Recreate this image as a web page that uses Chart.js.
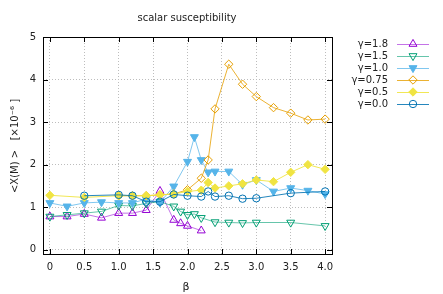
<!DOCTYPE html>
<html lang="en">
<head>
<meta charset="UTF-8" />
<title>scalar susceptibility</title>
<script src="https://cdn.jsdelivr.net/npm/chart.js"></script>
<style>
  body { margin: 0; background: #fff; }
</style>
</head>
<body>
<canvas id="chart" width="443" height="294"></canvas>
<script>
// data (beta, <X(M)> in 1e-6)
const g18Beta = [0, 0.25, 0.5, 0.75, 1.0, 1.2, 1.4, 1.6, 1.8, 1.9, 2.0, 2.2];
const g18Chi  = [0.78, 0.78, 0.84, 0.75, 0.86, 0.86, 0.93, 1.38, 0.70, 0.62, 0.56, 0.45];

const g15Beta = [0, 0.25, 0.5, 0.75, 1.0, 1.2, 1.4, 1.6, 1.8, 1.9, 2.0, 2.1, 2.2, 2.4, 2.6, 2.8, 3.0, 3.5, 4.0];
const g15Chi  = [0.78, 0.82, 0.86, 0.90, 1.04, 1.03, 1.09, 1.13, 1.02, 0.90, 0.82, 0.84, 0.75, 0.65, 0.64, 0.63, 0.64, 0.64, 0.56];

const g10Beta = [0, 0.25, 0.5, 0.75, 1.0, 1.2, 1.4, 1.6, 1.8, 2.0, 2.1, 2.2, 2.3, 2.4, 2.6, 2.8, 3.0, 3.25, 3.5, 3.75, 4.0];
const g10Chi  = [1.10, 1.02, 1.10, 1.12, 1.10, 1.10, 1.19, 1.11, 1.49, 2.07, 2.65, 2.11, 1.82, 1.84, 1.84, 1.53, 1.64, 1.37, 1.45, 1.39, 1.31];

const g075Beta = [1.0, 1.2, 1.4, 1.6, 1.8, 2.0, 2.2, 2.3, 2.4, 2.6, 2.8, 3.0, 3.25, 3.5, 3.75, 4.0];
const g075Chi  = [1.27, 1.27, 1.27, 1.29, 1.31, 1.41, 1.68, 2.11, 3.31, 4.36, 3.89, 3.60, 3.34, 3.21, 3.05, 3.07];

const g05Beta = [0, 0.5, 1.0, 1.2, 1.4, 1.6, 1.8, 2.0, 2.2, 2.3, 2.4, 2.6, 2.8, 3.0, 3.25, 3.5, 3.75, 4.0];
const g05Chi  = [1.28, 1.23, 1.27, 1.27, 1.27, 1.29, 1.31, 1.37, 1.40, 1.58, 1.45, 1.50, 1.55, 1.64, 1.60, 1.82, 2.00, 1.89];

const g00Beta = [0.5, 1.0, 1.2, 1.4, 1.6, 1.8, 2.0, 2.2, 2.3, 2.4, 2.6, 2.8, 3.0, 3.5, 4.0];
const g00Chi  = [1.27, 1.29, 1.27, 1.13, 1.13, 1.30, 1.27, 1.25, 1.37, 1.25, 1.27, 1.20, 1.21, 1.33, 1.37];

const xTicks = [0, 0.5, 1, 1.5, 2, 2.5, 3, 3.5, 4];
const yTicks = [0, 1, 2, 3, 4, 5];

const FONT = '"DejaVu Sans", sans-serif';

function pts(xs, ys) {
  return xs.map((x, i) => ({ x: x, y: ys[i] }));
}

function markerSize(style) {
  if (style === 'circle') return 3.7;
  if (style === 'rectRot') return 4.2;
  return 4.6;
}

function series(label, xs, ys, color, line, style, rot, filled, order) {
  return {
    label: label,
    data: pts(xs, ys),
    showLine: true,
    borderColor: line,
    borderWidth: 1,
    pointStyle: style,
    rotation: rot,
    pointRadius: markerSize(style),
    pointBorderColor: color,
    pointBackgroundColor: filled ? color : 'rgba(0,0,0,0)',
    pointBorderWidth: 1,
    order: order
  };
}

const datasets = [
  series('γ=1.8', g18Beta, g18Chi, '#9400d3', 'rgba(148,0,211,0.55)', 'triangle', 0, false, 5),
  series('γ=1.5', g15Beta, g15Chi, '#009e73', 'rgba(0,158,115,0.6)', 'triangle', 180, false, 4),
  series('γ=1.0', g10Beta, g10Chi, '#56b4e9', 'rgba(86,180,233,0.75)', 'triangle', 180, true, 3),
  series('γ=0.75', g075Beta, g075Chi, '#e69f00', 'rgba(230,159,0,0.8)', 'rectRot', 0, false, 2),
  series('γ=0.5', g05Beta, g05Chi, '#f0e442', 'rgba(240,228,66,0.9)', 'rectRot', 0, true, 1),
  series('γ=0.0', g00Beta, g00Chi, '#0072b2', 'rgba(0,114,178,0.85)', 'circle', 0, false, 0)
];

// box, inward ticks, titles and key, drawn gnuplot style
const frame = {
  id: 'frame',
  afterDraw(chart) {
    const ctx = chart.ctx;
    const a = chart.chartArea;
    const xs = chart.scales.x, ys = chart.scales.y;
    ctx.save();
    ctx.strokeStyle = '#000';
    ctx.lineWidth = 1;
    ctx.strokeRect(a.left + 0.5, a.top + 0.5, a.right - a.left, a.bottom - a.top);
    ctx.beginPath();
    xTicks.forEach(v => {
      const p = Math.round(xs.getPixelForValue(v)) + 0.5;
      ctx.moveTo(p, a.bottom); ctx.lineTo(p, a.bottom - 5);
      ctx.moveTo(p, a.top); ctx.lineTo(p, a.top + 5);
    });
    yTicks.forEach(v => {
      const p = Math.round(ys.getPixelForValue(v)) + 0.5;
      ctx.moveTo(a.left, p); ctx.lineTo(a.left + 5, p);
      ctx.moveTo(a.right, p); ctx.lineTo(a.right - 5, p);
    });
    ctx.stroke();

    ctx.fillStyle = '#222';
    ctx.font = '10px ' + FONT;
    ctx.textAlign = 'center';
    ctx.textBaseline = 'middle';
    ctx.fillText('scalar susceptibility', 187, 18);
    ctx.font = '11px ' + FONT;
    ctx.fillText('β', 186, 287);
    ctx.save();
    ctx.translate(15, 146);
    ctx.rotate(-Math.PI / 2);
    ctx.font = '10px ' + FONT;
    ctx.fillText('<X(M) >   [×10⁻⁶ ]', 0, 0);
    ctx.restore();

    // key
    ctx.font = '10px ' + FONT;
    ctx.textAlign = 'right';
    chart.data.datasets.forEach((d, i) => {
      const y = 44 + i * 12;
      ctx.fillStyle = '#222';
      ctx.fillText(d.label, 388, y);
      ctx.strokeStyle = d.borderColor;
      ctx.beginPath();
      ctx.moveTo(397, y + 0.5); ctx.lineTo(429, y + 0.5);
      ctx.stroke();
      ctx.strokeStyle = d.pointBorderColor;
      ctx.fillStyle = d.pointBackgroundColor;
      ctx.lineWidth = 1;
      Chart.helpers.drawPoint(ctx, {
        pointStyle: d.pointStyle, radius: d.pointRadius, rotation: d.rotation, borderWidth: 1
      }, 413, y);
    });
    ctx.restore();
  }
};

new Chart(document.getElementById('chart'), {
  type: 'scatter',
  data: { datasets: datasets },
  options: {
    responsive: false,
    animation: false,
    layout: { padding: { left: 0, top: 37, right: 111, bottom: 0 } },
    plugins: { legend: { display: false }, tooltip: { enabled: false } },
    scales: {
      x: {
        type: 'linear', min: -0.1, max: 4.1,
        afterFit: s => { s.height = 40; },
        afterBuildTicks: s => { s.ticks = xTicks.map(v => ({ value: v })); },
        grid: { color: '#bdbdbd', drawTicks: false },
        border: { display: false, dash: [1, 2] },
        ticks: { padding: 7, color: '#222', font: { family: FONT, size: 10 }, maxRotation: 0 }
      },
      y: {
        type: 'linear', min: -0.1, max: 5,
        afterFit: s => { s.width = 43; },
        afterBuildTicks: s => { s.ticks = yTicks.map(v => ({ value: v })); },
        grid: { color: '#bdbdbd', drawTicks: false },
        border: { display: false, dash: [1, 2] },
        ticks: { padding: 7, color: '#222', font: { family: FONT, size: 10 } }
      }
    }
  },
  plugins: [frame]
});
</script>
</body>
</html>
